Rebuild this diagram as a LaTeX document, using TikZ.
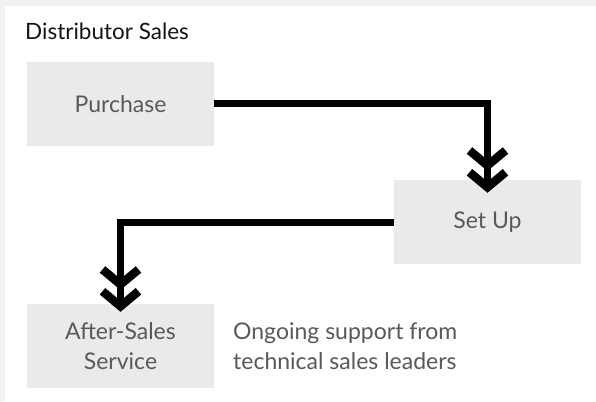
\documentclass[tikz,border=0pt]{standalone}
\usepackage{fontspec}
\setmainfont{Lato}
\usepackage{tikz}
\usetikzlibrary{arrows.meta}
\definecolor{pagegrey}{RGB}{242,242,242}
\definecolor{boxgrey}{RGB}{233,234,236}
\definecolor{textgrey}{RGB}{89,89,89}
\definecolor{titleblack}{RGB}{20,20,20}

\tikzset{
  stagebox/.style={fill=boxgrey, minimum width=187pt, minimum height=84pt,
    inner sep=0pt, text=textgrey, align=center, font=\fontsize{23}{30}\selectfont},
  flow/.style={line width=7pt,
    -{Straight Barb[length=15pt,width=36pt,line width=8.5pt,sharp,sep=-3pt]
      Straight Barb[length=15pt,width=36pt,line width=8.5pt,sharp]}}
}

\begin{document}
\begin{tikzpicture}[x=1pt, y=-1pt]
    % page and panel
    \fill[pagegrey] (0,0) rectangle (596,401);
    \fill[white] (5,6) rectangle (596,401);
    \useasboundingbox (0,0) rectangle (596,401);
    % title
    \node[anchor=base west, inner sep=0pt, text=titleblack,
      font=\fontsize{22.5}{26}\selectfont] (title) at (25,40) {Distributor Sales};
    % stages
    \node[stagebox] (purchase) at (120.5,104) {Purchase};
    \node[stagebox] (setup) at (487.5,222) {Set Up};
    \node[stagebox] (aftersales) at (120.5,346) {After-Sales\\Service};
    % note beside last stage
    \node[anchor=west, inner sep=0pt, text=textgrey, align=left,
      font=\fontsize{23}{30}\selectfont] (note) at (233,346)
      {Ongoing support from\\technical sales leaders};
    % connectors
    \draw[flow] (purchase.east) -| ([yshift=-13pt]setup.north);
    \draw[flow] (setup.west) -| ([yshift=-8pt]aftersales.north);
\end{tikzpicture}
\end{document}
